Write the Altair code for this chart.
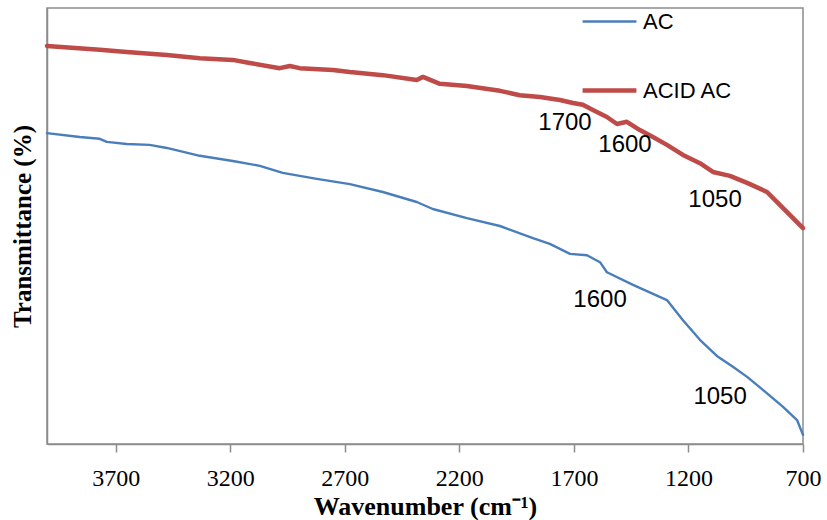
import altair as alt
import pandas as pd

# ACID AC (red) trace: wavenumber (cm-1) and transmittance (arbitrary %, axis unlabeled)
acid_wn = [4000, 3770, 3652, 3477, 3333, 3189, 3115, 2984, 2940, 2897, 2752, 2678, 2534,
           2386, 2359, 2285, 2167, 2023, 1936, 1848, 1761, 1704, 1661, 1617, 1556, 1512,
           1469, 1412, 1355, 1294, 1224, 1150, 1093, 1019, 944, 857, 800, 700]
acid_t = [91.3, 90.4, 89.9, 89.2, 88.5, 88.1, 87.4, 86.2, 86.7, 86.2, 85.8, 85.3, 84.6,
          83.5, 84.2, 82.6, 82.1, 81.0, 80.0, 79.6, 78.9, 78.2, 77.8, 76.6, 75.0, 73.4,
          73.9, 72.0, 70.4, 68.6, 66.3, 64.4, 62.4, 61.5, 59.9, 57.8, 54.8, 49.5]

# AC (blue) trace
ac_wn = [4000, 3857, 3770, 3739, 3652, 3552, 3477, 3333, 3189, 3071, 2971, 2897, 2822,
         2678, 2534, 2386, 2316, 2167, 2023, 1879, 1805, 1717, 1643, 1586, 1556, 1442,
         1294, 1224, 1150, 1076, 1006, 944, 875, 787, 726, 700]
ac_t = [71.3, 70.4, 70.0, 69.3, 68.8, 68.6, 67.9, 66.1, 64.9, 63.8, 62.2, 61.5, 60.8,
        59.6, 57.8, 55.5, 53.9, 51.8, 50.0, 47.2, 45.9, 43.6, 43.3, 41.7, 39.4, 36.5,
        33.0, 28.4, 23.9, 20.2, 17.7, 15.4, 12.4, 8.5, 5.5, 2.1]

series_names = ["AC", "ACID AC"]
series_colors = ["#4A7EBB", "#BE4B48"]

# Peak annotations
ann_label = ["1700", "1600", "1050", "1600", "1050"]
ann_wn = [1739, 1477, 1084, 1586, 1062]
ann_t = [73.6, 68.6, 56.0, 33.0, 10.8]

x_ticks = [3700, 3200, 2700, 2200, 1700, 1200, 700]

df = pd.concat([
    pd.DataFrame({"wn": ac_wn, "t": ac_t, "series": "AC", "order": range(len(ac_wn))}),
    pd.DataFrame({"wn": acid_wn, "t": acid_t, "series": "ACID AC", "order": range(len(acid_wn))}),
])
ann = pd.DataFrame({"wn": ann_wn, "t": ann_t, "label": ann_label})

x_scale = alt.Scale(domain=[700, 4000], reverse=True, nice=False, zero=False)
y_scale = alt.Scale(domain=[0, 100], nice=False, zero=False)

legend_cfg = dict(title=None, orient="none", legendX=533, legendY=-15,
                  symbolType="stroke", symbolSize=2900,
                  labelFont="Liberation Sans", labelFontSize=22,
                  labelColor="black", labelOffset=4, rowPadding=28)

lines = alt.Chart(df).mark_line(strokeCap="round", strokeJoin="round").encode(
    x=alt.X("wn:Q", scale=x_scale,
            axis=alt.Axis(values=x_ticks, title="Wavenumber (cm⁻¹)", format="d",
                          grid=False, tickSize=8, tickColor="#8c8c8c", tickWidth=1.5,
                          domainColor="#8c8c8c", domainWidth=1.5,
                          labelFont="Liberation Serif", labelFontSize=24, labelColor="black",
                          labelPadding=14, labelFlush=False,
                          titleFont="Liberation Serif", titleFontSize=26, titleFontWeight="bold",
                          titleColor="black", titlePadding=3)),
    y=alt.Y("t:Q", scale=y_scale,
            axis=alt.Axis(labels=False, ticks=False, grid=False, title="Transmittance (%)",
                          domainColor="#8c8c8c", domainWidth=1.5,
                          titleFont="Liberation Serif", titleFontSize=25, titleFontWeight="bold",
                          titleColor="black", titlePadding=12)),
    color=alt.Color("series:N", scale=alt.Scale(domain=series_names, range=series_colors),
                    legend=alt.Legend(**legend_cfg)),
    strokeWidth=alt.StrokeWidth("series:N", scale=alt.Scale(domain=series_names, range=[2.4, 4.5]),
                                legend=alt.Legend(**legend_cfg)),
    order="order:Q",
)

labels = alt.Chart(ann).mark_text(font="Liberation Sans", fontSize=24, color="black").encode(
    x=alt.X("wn:Q", scale=x_scale),
    y=alt.Y("t:Q", scale=y_scale),
    text="label:N",
)

chart = alt.layer(lines, labels).properties(
    width=756, height=436,
    padding={"left": 47, "top": 8, "right": 24, "bottom": 76},
    autosize=alt.AutoSizeParams(type="none"),
    background="white",
).configure_view(stroke="#8c8c8c", strokeWidth=1.5)

chart.save("out.html", embed_options={"renderer": "svg", "actions": False})
